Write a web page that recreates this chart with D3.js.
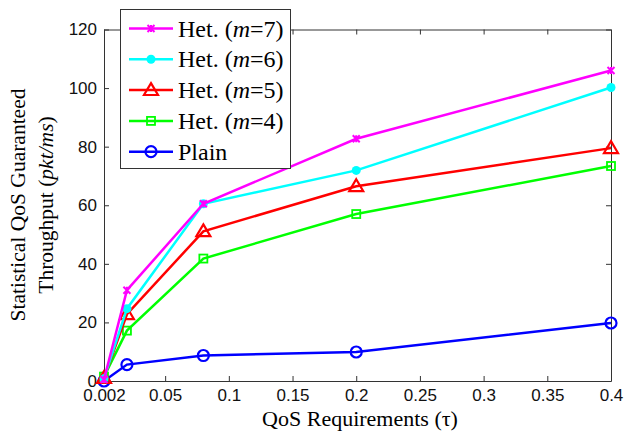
<!DOCTYPE html>
<html>
<head>
<meta charset="utf-8">
<script src="https://cdn.jsdelivr.net/npm/d3@7"></script>
<style>
  body { margin: 0; background: #fff; }
  svg { display: block; }
</style>
</head>
<body>
<div id="chart"></div>
<script>
// ---- data ----
var tau = [0.002, 0.02, 0.08, 0.2, 0.4];
var het7 = [0.5, 31, 60.5, 82.7, 106];
var het6 = [0.8, 24.7, 60.5, 71.9, 100.2];
var het5 = [1, 22.8, 51.1, 66.5, 79.5];
var het4 = [1.5, 17.2, 41.8, 57, 73.4];
var plain = [0, 5.6, 8.7, 9.9, 19.8];
var xTicks = [0.002, 0.05, 0.1, 0.15, 0.2, 0.25, 0.3, 0.35, 0.4];
var xTickLabels = ['0.002', '0.05', '0.1', '0.15', '0.2', '0.25', '0.3', '0.35', '0.4'];
var yTicks = [0, 20, 40, 60, 80, 100, 120];

var series = [
  {name: 'Het. (', m: '7', values: het7, color: '#ff00ff', marker: 'x'},
  {name: 'Het. (', m: '6', values: het6, color: '#00ffff', marker: 'dot'},
  {name: 'Het. (', m: '5', values: het5, color: '#ff0000', marker: 'tri'},
  {name: 'Het. (', m: '4', values: het4, color: '#00ff00', marker: 'sq'},
  {name: 'Plain', m: null, values: plain, color: '#0000ff', marker: 'circ'}
];

//---- size ----
var width = 626, height = 436;
var mLeft = 104, mRight = 611, mTop = 29.5, mBottom = 381;

var svg = d3.select('#chart').append('svg')
  .attr('width', width).attr('height', height);

var x = d3.scaleLinear().domain([0.002, 0.4]).range([mLeft, mRight]);
var y = d3.scaleLinear().domain([0, 120]).range([mBottom, mTop]);

var tickFont = 'Liberation Sans, Arial, sans-serif';
var serif = 'Liberation Serif, Times New Roman, serif';

//---- axes (MATLAB style box, ticks inside) ----
svg.append('g').attr('transform', 'translate(0,' + mBottom + ')')
  .call(d3.axisBottom(x).tickValues(xTicks).tickSizeInner(-5).tickSizeOuter(0)
    .tickPadding(8).tickFormat(function(d, i) { return xTickLabels[i]; }));
svg.append('g').attr('transform', 'translate(' + mLeft + ',0)')
  .call(d3.axisLeft(y).tickValues(yTicks).tickSizeInner(-5).tickSizeOuter(0).tickPadding(7));
svg.append('g').attr('transform', 'translate(0,' + mTop + ')')
  .call(d3.axisTop(x).tickValues(xTicks).tickSizeInner(-5).tickSizeOuter(0).tickFormat(''));
svg.append('g').attr('transform', 'translate(' + mRight + ',0)')
  .call(d3.axisRight(y).tickValues(yTicks).tickSizeInner(-5).tickSizeOuter(0).tickFormat(''));

svg.selectAll('.domain, .tick line').attr('stroke', '#333').attr('stroke-width', 1);
svg.selectAll('.tick text').attr('font-family', tickFont).attr('font-size', 17).attr('fill', '#111');

//---- axis labels ----
svg.append('text')
  .attr('x', 360).attr('y', 426)
  .attr('text-anchor', 'middle')
  .attr('font-family', serif).attr('font-size', 22)
  .text('QoS Requirements (τ)');

var ylab = svg.append('g').attr('transform', 'translate(0,205) rotate(-90)');
ylab.append('text').attr('x', 0).attr('y', 25)
  .attr('text-anchor', 'middle').attr('font-family', serif).attr('font-size', 21.5)
  .text('Statistical QoS Guaranteed');
var t2 = ylab.append('text').attr('x', 0).attr('y', 53)
  .attr('text-anchor', 'middle').attr('font-family', serif).attr('font-size', 21.5);
t2.append('tspan').text('Throughput (');
t2.append('tspan').attr('font-style', 'italic').text('pkt/ms');
t2.append('tspan').text(')');

//---- lines ----
var line = d3.line()
  .x(function(d, i) { return x(tau[i]); })
  .y(function(d) { return y(d); });

// draw plain first so the hetero curves sit on top like in the figure
var order = series.slice().reverse();

function drawMarker(g, type, color, cx, cy) {
  if (type === 'circ') {
    g.append('circle').attr('cx', cx).attr('cy', cy).attr('r', 5.5)
      .attr('fill', 'none').attr('stroke', color).attr('stroke-width', 2.2);
  } else if (type === 'dot') {
    g.append('circle').attr('cx', cx).attr('cy', cy).attr('r', 4.5).attr('fill', color);
  } else if (type === 'tri') {
    var s = 7;
    g.append('path')
      .attr('d', 'M' + cx + ',' + (cy - s) + 'L' + (cx + s) + ',' + (cy + s * 0.7) + 'L' + (cx - s) + ',' + (cy + s * 0.7) + 'Z')
      .attr('fill', 'none').attr('stroke', color).attr('stroke-width', 2.2);
  } else if (type === 'sq') {
    g.append('rect').attr('x', cx - 4).attr('y', cy - 4).attr('width', 8).attr('height', 8)
      .attr('fill', 'none').attr('stroke', color).attr('stroke-width', 1.8);
  } else if (type === 'x') {
    var k = 3.5;
    g.append('path')
      .attr('d', 'M' + (cx - k) + ',' + (cy - k) + 'L' + (cx + k) + ',' + (cy + k) +
        'M' + (cx - k) + ',' + (cy + k) + 'L' + (cx + k) + ',' + (cy - k) +
        'M' + cx + ',' + (cy - k) + 'L' + cx + ',' + (cy + k))
      .attr('stroke', color).attr('stroke-width', 2);
  }
}

order.forEach(function(s) {
  var g = svg.append('g');
  g.append('path').datum(s.values)
    .attr('d', line).attr('fill', 'none')
    .attr('stroke', s.color).attr('stroke-width', 2.5);
  s.values.forEach(function(v, i) { drawMarker(g, s.marker, s.color, x(tau[i]), y(v)); });
});

//---- legend ----
var lg = svg.append('g');
lg.append('rect').attr('x', 120.5).attr('y', 9.5).attr('width', 170).attr('height', 159)
  .attr('fill', '#fff').attr('stroke', '#333').attr('stroke-width', 1);
series.forEach(function(s, i) {
  var cy = 28.5 + i * 30.8;
  lg.append('line').attr('x1', 129).attr('x2', 173).attr('y1', cy).attr('y2', cy)
    .attr('stroke', s.color).attr('stroke-width', 2.5);
  drawMarker(lg, s.marker, s.color, 151, cy);
  var t = lg.append('text').attr('x', 178).attr('y', cy + 8)
    .attr('font-family', serif).attr('font-size', 24);
  if (s.m) {
    t.append('tspan').text(s.name);
    t.append('tspan').attr('font-style', 'italic').text('m');
    t.append('tspan').text('=' + s.m + ')');
  } else {
    t.text(s.name);
  }
});
</script>
</body>
</html>
